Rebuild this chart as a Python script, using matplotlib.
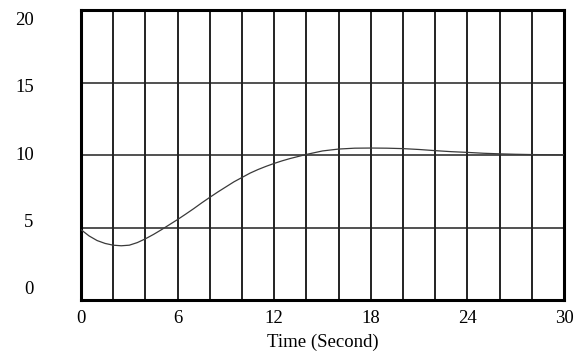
import numpy as np
import matplotlib
matplotlib.use("Agg")
import matplotlib.pyplot as plt

# Data
time = [0, 0.5, 1, 1.5, 2, 2.5, 3, 3.5, 4, 4.5, 5, 5.5, 6, 6.5, 7, 7.5, 8, 8.5, 9, 9.5,
        10, 10.5, 11, 11.5, 12, 12.5, 13, 13.5, 14, 15, 16, 17, 18, 19, 20,
        21, 22, 23, 24, 25, 26, 27, 28, 29, 30]
value = [4.85, 4.42, 4.1, 3.9, 3.78, 3.74, 3.78, 3.96, 4.22, 4.52, 4.85, 5.2, 5.55, 5.92,
         6.3, 6.7, 7.08, 7.45, 7.8, 8.15, 8.45, 8.75, 9.0, 9.22, 9.42, 9.6, 9.76, 9.9,
         10.04, 10.28, 10.41, 10.47, 10.48, 10.47, 10.44, 10.38, 10.3, 10.23, 10.18,
         10.12, 10.08, 10.05, 10.03, 10.02, 10.01]
x_ticks = [0, 6, 12, 18, 24, 30]
x_tick_labels = ["0", "6", "12", "18", "24", "30"]
x_grid = list(range(0, 31, 2))
y_ticks = [0, 5, 10, 15, 20]
y_tick_labels = ["0", "5", "10", "15", "20"]
x_label = "Time (Second)"

plt.rcParams['font.family'] = ['Liberation Serif', 'DejaVu Serif']
FS = 13.5

fig = plt.figure(figsize=(5.88, 3.52), dpi=100)
ax = fig.add_axes([81/588, 52/352, 483/588, 290/352])

ax.plot(time, value, color='#3a3a3a', lw=0.9, zorder=3)

ax.set_xlim(0, 30)
ax.set_ylim(0, 20)

ax.set_xticks(x_grid, minor=True)
ax.set_xticks(x_ticks)
ax.set_xticklabels(x_tick_labels, fontsize=FS)
ax.set_yticks(y_ticks)
ax.set_yticklabels([])
ax.tick_params(axis='both', which='both', length=0)
ax.tick_params(axis='x', pad=7)

ax.grid(True, axis='x', which='both', color='#111111', lw=1.3)
ax.grid(True, axis='y', which='major', color='#222222', lw=1.1)

for v, lab in zip(y_ticks, y_tick_labels):
    yf = 0.5 + (v / 20 - 0.5) * 0.93
    ax.text(-0.098, yf, lab, transform=ax.transAxes, ha='right', va='center',
            fontsize=FS)

ax.set_xlabel(x_label, fontsize=FS, labelpad=5)

for s in ax.spines.values():
    s.set_linewidth(2.2)
    s.set_color('black')

fig.savefig("out.png", dpi=100)
